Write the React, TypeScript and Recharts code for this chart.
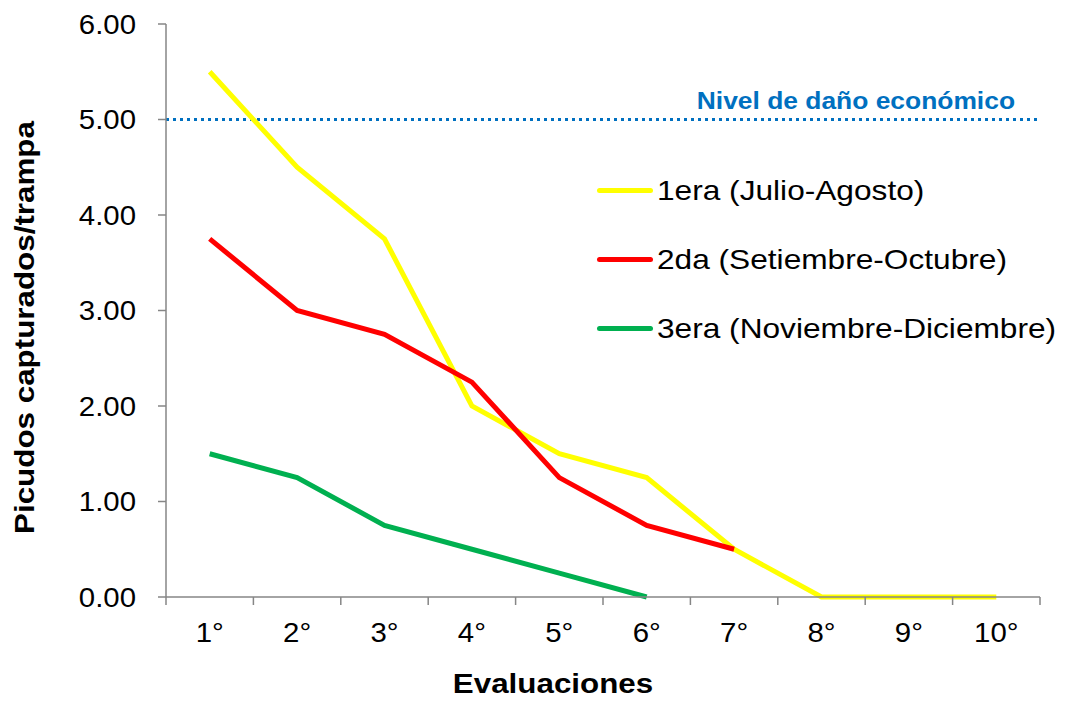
import { LineChart, Line, XAxis, YAxis, ReferenceLine, Label } from 'recharts';

const evaluaciones = ['1°', '2°', '3°', '4°', '5°', '6°', '7°', '8°', '9°', '10°'];
const primera = [5.5, 4.5, 3.75, 2.0, 1.5, 1.25, 0.5, 0, 0, 0];
const segunda = [3.75, 3.0, 2.75, 2.25, 1.25, 0.75, 0.5, null, null, null];
const tercera = [1.5, 1.25, 0.75, 0.5, 0.25, 0, null, null, null, null];
const yTicks = [0, 1, 2, 3, 4, 5, 6];
const umbral = 5;

const series = [
  { key: 'primera', name: '1era (Julio-Agosto)', color: '#FFFF00' },
  { key: 'segunda', name: '2da (Setiembre-Octubre)', color: '#FF0000' },
  { key: 'tercera', name: '3era (Noviembre-Diciembre)', color: '#00B050' },
];

const data = evaluaciones.map((ev, i) => ({
  ev,
  primera: primera[i],
  segunda: segunda[i],
  tercera: tercera[i],
}));

const font = '"Liberation Sans", Arial, sans-serif';
const axisGray = '#868686';
const TICK_SIZE = 8;
const TICK_MARGIN = 17;

// texto algo ensanchado, como el Arial del original
function Ancho(props: any) {
  const { x, y, rot = 0, sx = 1.12, anchor = 'middle', size = 28, bold, fill = '#000', dy, children } = props;
  return (
    <text
      transform={`translate(${x},${y}) rotate(${rot}) scale(${sx},1)`}
      dy={dy}
      textAnchor={anchor}
      fill={fill}
      fontSize={size}
      fontWeight={bold ? 'bold' : 'normal'}
      fontFamily={font}
    >
      {children}
    </text>
  );
}

// etiqueta de categoría + marcas en los límites de cada banda
function TickEval(props: any) {
  const { x, y, payload, index, visibleTicksCount } = props;
  const half = payload.offset || 43.7;
  const axisY = y - TICK_SIZE - TICK_MARGIN;
  return (
    <g>
      <line x1={x - half} x2={x - half} y1={axisY} y2={axisY + TICK_SIZE} stroke={axisGray} strokeWidth={1.5} />
      {index === visibleTicksCount - 1 && (
        <line x1={x + half} x2={x + half} y1={axisY} y2={axisY + TICK_SIZE} stroke={axisGray} strokeWidth={1.5} />
      )}
      <Ancho x={x} y={y} dy="0.71em" sx={1.05}>{payload.value}</Ancho>
    </g>
  );
}

function TickY(props: any) {
  const { x, y, payload } = props;
  return (
    <Ancho x={x} y={y} dy="0.355em" anchor="end" sx={1.05}>{Number(payload.value).toFixed(2)}</Ancho>
  );
}

function Leyenda() {
  return (
    <div style={{ position: 'absolute', left: 597, top: 156, fontFamily: font, fontSize: 28, color: '#000' }}>
      {series.map(s => (
        <div key={s.key} style={{ display: 'flex', alignItems: 'center', height: 69, whiteSpace: 'nowrap' }}>
          <div style={{ width: 56, height: 5, borderRadius: 3, background: s.color, marginRight: 4 }} />
          <span style={{ display: 'inline-block', transform: 'scaleX(1.13)', transformOrigin: 'left center' }}>{s.name}</span>
        </div>
      ))}
    </div>
  );
}

export default function App() {
  return (
    <div style={{ position: 'absolute', left: 0, top: 0, width: 1065, height: 701, background: '#fff' }}>
      <LineChart width={1065} height={701} data={data} margin={{ top: 24, right: 25, bottom: 0, left: 0 }}>
        <XAxis
          xAxisId="cat"
          dataKey="ev"
          scale="band"
          stroke={axisGray}
          strokeWidth={1.5}
          tickLine={false}
          tickSize={TICK_SIZE}
          tickMargin={TICK_MARGIN}
          height={104}
          tick={<TickEval />}
          interval={0}
        >
          <Label
            content={(p: any) => {
              const vb = p.viewBox;
              return <Ancho x={vb.x + vb.width / 2 - 50} y={vb.y + vb.height - 8} bold>Evaluaciones</Ancho>;
            }}
          />
        </XAxis>
        <YAxis
          domain={[0, 6]}
          ticks={yTicks}
          width={166}
          tickSize={TICK_SIZE}
          tickMargin={22}
          stroke={axisGray}
          strokeWidth={1.5}
          tick={<TickY />}
        >
          <Label
            content={(p: any) => {
              const vb = p.viewBox;
              return <Ancho x={vb.x + 34} y={vb.y + vb.height / 2 + 17} rot={-90} bold>Picudos capturados/trampa</Ancho>;
            }}
          />
        </YAxis>
        <ReferenceLine
          xAxisId="cat"
          y={umbral}
          stroke="#0070C0"
          strokeWidth={3}
          strokeDasharray="3 4"
          label={(props: any) => {
            const vb = props.viewBox;
            return (
              <Ancho x={vb.x + vb.width - 25} y={vb.y - 11} anchor="end" size={24} sx={1.1} bold fill="#0070C0">
                Nivel de daño económico
              </Ancho>
            );
          }}
        />
        {[series[2], series[0], series[1]].map(s => (
          <Line
            key={s.key}
            xAxisId="cat"
            type="linear"
            dataKey={s.key}
            name={s.name}
            stroke={s.color}
            strokeWidth={5}
            strokeLinejoin="miter"
            dot={false}
            activeDot={false}
            isAnimationActive={false}
          />
        ))}
      </LineChart>
      <Leyenda />
    </div>
  );
}
